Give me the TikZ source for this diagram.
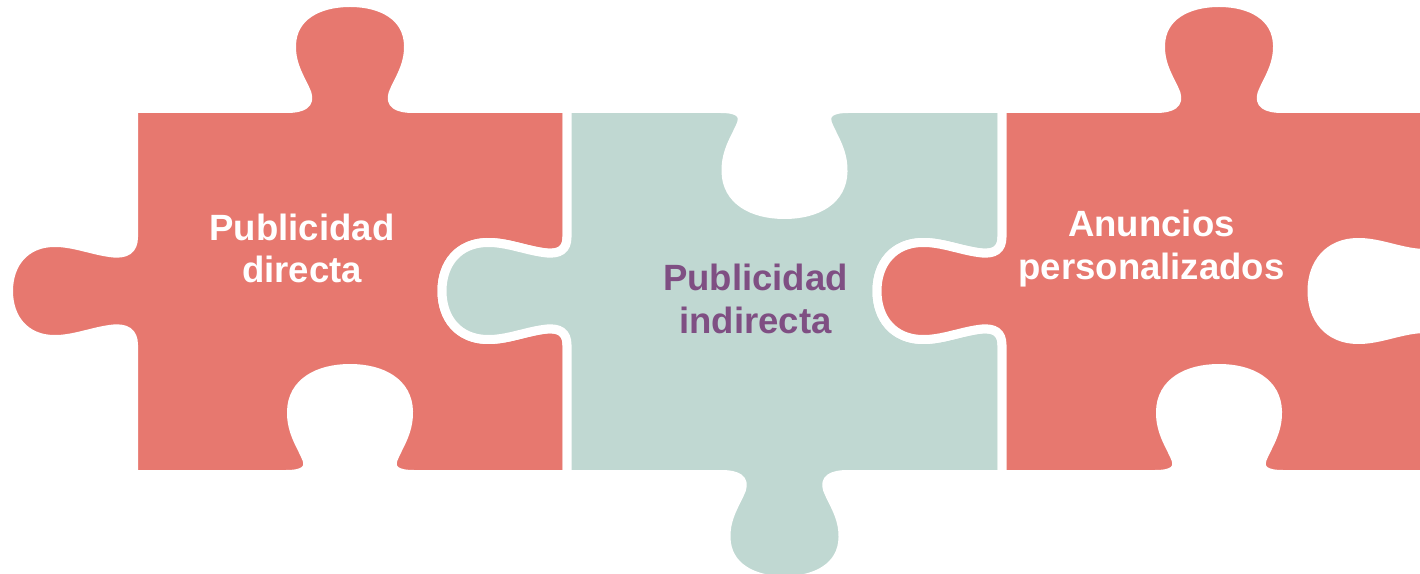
\documentclass[tikz,border=0pt]{standalone}
\usepackage{fontspec}
\setmainfont{Liberation Sans}
\usepackage{tikz}
\usepackage{xcolor}
\definecolor{piecered}{HTML}{E7786F}
\definecolor{pieceteal}{HTML}{C0D8D2}
\definecolor{textpurple}{HTML}{7F4F83}
\tikzset{
	% knob on a horizontal edge: centre x, edge y, outward sign, run sign
	vtab/.style n args={4}{insert path={
		-- ({#1-(#4)*64},{#2})
		.. controls ({#1-(#4)*46},{#2}) and ({#1-(#4)*40},{#2+(#3)*5}) .. ({#1-(#4)*43},{#2+(#3)*15})
		.. controls ({#1-(#4)*48},{#2+(#3)*28}) and ({#1-(#4)*59},{#2+(#3)*42}) .. ({#1-(#4)*58.5},{#2+(#3)*63})
		.. controls ({#1-(#4)*58},{#2+(#3)*92}) and ({#1-(#4)*32},{#2+(#3)*106}) .. ({#1},{#2+(#3)*106})
		.. controls ({#1+(#4)*32},{#2+(#3)*106}) and ({#1+(#4)*58},{#2+(#3)*92}) .. ({#1+(#4)*58.5},{#2+(#3)*63})
		.. controls ({#1+(#4)*59},{#2+(#3)*42}) and ({#1+(#4)*48},{#2+(#3)*28}) .. ({#1+(#4)*43},{#2+(#3)*15})
		.. controls ({#1+(#4)*40},{#2+(#3)*5}) and ({#1+(#4)*46},{#2}) .. ({#1+(#4)*64},{#2})
	}},
	% knob on a vertical edge: edge x, centre y, outward sign, run sign
	htab/.style n args={4}{insert path={
		-- ({#1},{#2-(#4)*54})
		.. controls ({#1},{#2-(#4)*41}) and ({#1+(#3)*8},{#2-(#4)*37}) .. ({#1+(#3)*20},{#2-(#4)*38})
		.. controls ({#1+(#3)*40},{#2-(#4)*40}) and ({#1+(#3)*60},{#2-(#4)*49}) .. ({#1+(#3)*80},{#2-(#4)*48.5})
		.. controls ({#1+(#3)*108},{#2-(#4)*48}) and ({#1+(#3)*125},{#2-(#4)*28}) .. ({#1+(#3)*125},{#2})
		.. controls ({#1+(#3)*125},{#2+(#4)*28}) and ({#1+(#3)*108},{#2+(#4)*48}) .. ({#1+(#3)*80},{#2+(#4)*48.5})
		.. controls ({#1+(#3)*60},{#2+(#4)*49}) and ({#1+(#3)*40},{#2+(#4)*40}) .. ({#1+(#3)*20},{#2+(#4)*38})
		.. controls ({#1+(#3)*8},{#2+(#4)*37}) and ({#1},{#2+(#4)*41}) .. ({#1},{#2+(#4)*54})
	}},
}

\begin{document}
\begin{tikzpicture}[x=0.02cm, y=-0.02cm]
    \tikzstyle{piece}=[draw=white, line width=0.18cm, line join=miter]
    \tikzstyle{redpiece}=[piece, fill=piecered]
    \tikzstyle{tealpiece}=[piece, fill=pieceteal]
    \tikzstyle{label}=[align=center, inner sep=0pt, font=\fontsize{20.8}{24.4}\selectfont\bfseries]

    \useasboundingbox (0,0) rectangle (1420,574);

    % left piece
    \filldraw[redpiece] (133.5,108.5) [vtab={350}{108.5}{-1}{1}] -- (567,108.5)
        [htab={567}{291}{-1}{1}] -- (567,474.5)
        [vtab={350}{474.5}{-1}{-1}] -- (133.5,474.5)
        [htab={133.5}{291}{-1}{-1}] -- cycle;
    % middle piece
    \filldraw[tealpiece] (567,108.5) [vtab={784.5}{108.5}{1}{1}] -- (1002,108.5)
        [htab={1002}{291}{-1}{1}] -- (1002,474.5)
        [vtab={784.5}{474.5}{1}{-1}] -- (567,474.5)
        [htab={567}{291}{-1}{-1}] -- cycle;
    % right piece
    \filldraw[redpiece] (1002,108.5) [vtab={1219}{108.5}{-1}{1}] -- (1437,108.5)
        [htab={1437}{291}{-1}{1}] -- (1437,474.5)
        [vtab={1219}{474.5}{-1}{-1}] -- (1002,474.5)
        [htab={1002}{291}{-1}{-1}] -- cycle;

    \node[label, text=white] (directa) at (302,248.5) {Publicidad\\directa};
    \node[label, text=textpurple] (indirecta) at (755.5,299) {Publicidad\\indirecta};
    \node[label, text=white] (personal) at (1151.5,248.5) {Anuncios\\personalizados};
\end{tikzpicture}
\end{document}
